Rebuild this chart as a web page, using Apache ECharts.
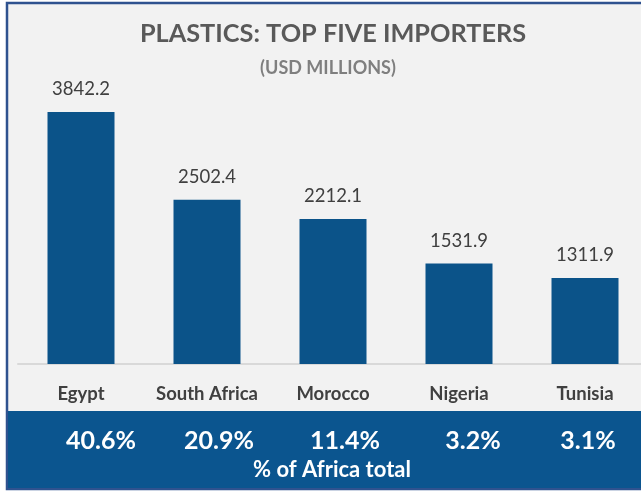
<!DOCTYPE html>
<html>
<head>
<meta charset="utf-8">
<style>
  html, body { margin: 0; padding: 0; background: #ffffff; overflow: hidden; }
  #chart { width: 660px; height: 491px; }
</style>
<script src="https://cdn.jsdelivr.net/npm/echarts@6/dist/echarts.min.js"></script>
</head>
<body>
<div id="chart"></div>
<script>
// Top five plastics importers, USD millions
const categories = ['Egypt', 'South Africa', 'Morocco', 'Nigeria', 'Tunisia'];
const importsUsdMillions = [3842.2, 2502.4, 2212.1, 1531.9, 1311.9];
// Share of the African total for each importer
const africaShareLabels = ['40.6%', '20.9%', '11.4%', '3.2%', '3.1%'];

const FONT = 'Lato, "Open Sans", sans-serif';
const BAR_BLUE = '#0b5389';
const BAND_BLUE = '#0b558f';
const FRAME_BLUE = '#2f528f';

// horizontal centres of the share labels in the bottom band
const shareLabelX = [101, 219, 345, 473, 588];

const chart = echarts.init(document.getElementById('chart'), null, { renderer: 'canvas' });

const shareTexts = africaShareLabels.map((t, i) => ({
  type: 'text',
  z: 100,
  x: shareLabelX[i],
  y: 441,
  style: {
    text: t,
    fill: '#ffffff',
    font: 'bold 25px ' + FONT,
    textAlign: 'center',
    textVerticalAlign: 'middle'
  }
}));

chart.setOption({
  backgroundColor: '#ffffff',
  animation: false,
  title: [
    {
      text: 'PLASTICS: TOP FIVE IMPORTERS',
      left: 328,
      top: 16,
      textAlign: 'center',
      textStyle: { fontFamily: FONT, fontWeight: 'bold', fontSize: 25.3, color: '#595959' }
    },
    {
      text: '(USD MILLIONS)',
      left: 323,
      top: 54,
      textAlign: 'center',
      textStyle: { fontFamily: FONT, fontWeight: 'bold', fontSize: 18, color: '#7f7f7f' }
    }
  ],
  graphic: [
    {
      type: 'rect',
      z: -10,
      shape: { x: 7, y: 3, width: 700, height: 486 },
      style: { fill: '#f2f2f2', stroke: FRAME_BLUE, lineWidth: 2.5 }
    },
    {
      type: 'rect',
      z: -5,
      shape: { x: 8, y: 411, width: 700, height: 77 },
      style: { fill: BAND_BLUE }
    },
    ...shareTexts,
    {
      type: 'text',
      z: 100,
      x: 332,
      y: 470,
      style: {
        text: '% of Africa total',
        fill: '#ffffff',
        font: 'bold 22px ' + FONT,
        textAlign: 'center',
        textVerticalAlign: 'middle'
      }
    }
  ],
  grid: { left: 18, width: 630, top: 101.6, bottom: 127, containLabel: false },
  xAxis: {
    type: 'category',
    data: categories,
    axisLine: { show: true, lineStyle: { color: '#d9d9d9', width: 2 } },
    axisTick: { show: false },
    axisLabel: {
      interval: 0,
      hideOverlap: false,
      margin: 21,
      fontFamily: FONT,
      fontWeight: 'bold',
      fontSize: 18.5,
      color: '#404040'
    }
  },
  yAxis: {
    type: 'value',
    min: 0,
    max: 4000,
    show: false,
    splitLine: { show: false }
  },
  series: [
    {
      type: 'bar',
      data: importsUsdMillions,
      barWidth: 67,
      itemStyle: { color: BAR_BLUE },
      label: {
        show: true,
        position: 'top',
        distance: 13,
        fontFamily: FONT,
        fontSize: 18.5,
        color: '#404040',
        formatter: p => p.value.toFixed(1)
      }
    }
  ]
});
</script>
</body>
</html>
